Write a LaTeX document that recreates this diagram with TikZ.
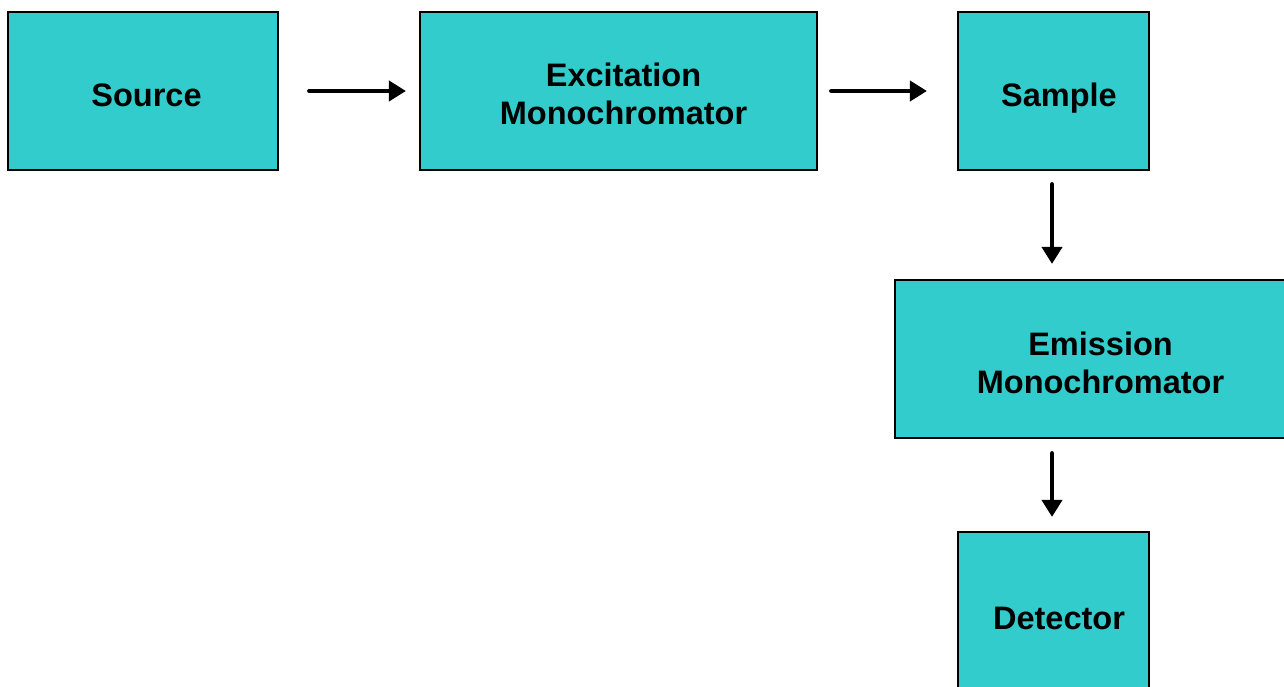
\documentclass[tikz,border=0pt]{standalone}
\usepackage{fontspec}
\setmainfont{Liberation Sans}
\usetikzlibrary{arrows.meta}
\definecolor{boxcyan}{HTML}{33CCCC}
\begin{document}
\begin{tikzpicture}[x=1pt,y=-1pt,
  blockbox/.style={draw=black,line width=2.2pt,fill=boxcyan,minimum height=158pt,inner sep=0pt},
  blocktext/.style={inner sep=0pt,align=center,font=\fontsize{32.5}{38}\selectfont\bfseries},
  flowarrow/.style={line width=4pt,line cap=round,-{Triangle[length=17pt,width=20pt]}}]
\useasboundingbox (0,0) rectangle (1284,687);
\begin{scope}
\clip (0,0) rectangle (1284,687);
\node[blockbox,minimum width=270pt] (src) at (143,91) {};
\node[blockbox,minimum width=397pt] (exc) at (618.5,91) {};
\node[blockbox,minimum width=191pt] (smp) at (1053.5,91) {};
\node[blockbox,minimum width=405pt] (emi) at (1097.5,359) {};
\node[blockbox,minimum width=191pt,minimum height=172pt] (det) at (1053.5,618) {};
\end{scope}
\node[blocktext] (srct) at (146.5,95) {Source};
\node[blocktext] (exct) at (623.5,94) {Excitation\\Monochromator};
\node[blocktext] (smpt) at (1059,98) {Sample};
\node[blocktext] (emit) at (1100.5,363) {Emission\\Monochromator};
\node[blocktext] (dett) at (1059,618) {Detector};
\draw[flowarrow,shorten <=30pt,shorten >=13pt] (src.east) -- (exc.west);
\draw[flowarrow,shorten <=13pt,shorten >=30pt] (exc.east) -- (smp.west);
\draw[flowarrow,shorten <=13pt,shorten >=15pt] ([xshift=-1.5pt]smp.south) -- ([xshift=-1.5pt]smp.south |- emi.north);
\draw[flowarrow,shorten <=14pt,shorten >=14pt] ([xshift=-1.5pt]det.north |- emi.south) -- ([xshift=-1.5pt]det.north);
\end{tikzpicture}
\end{document}
